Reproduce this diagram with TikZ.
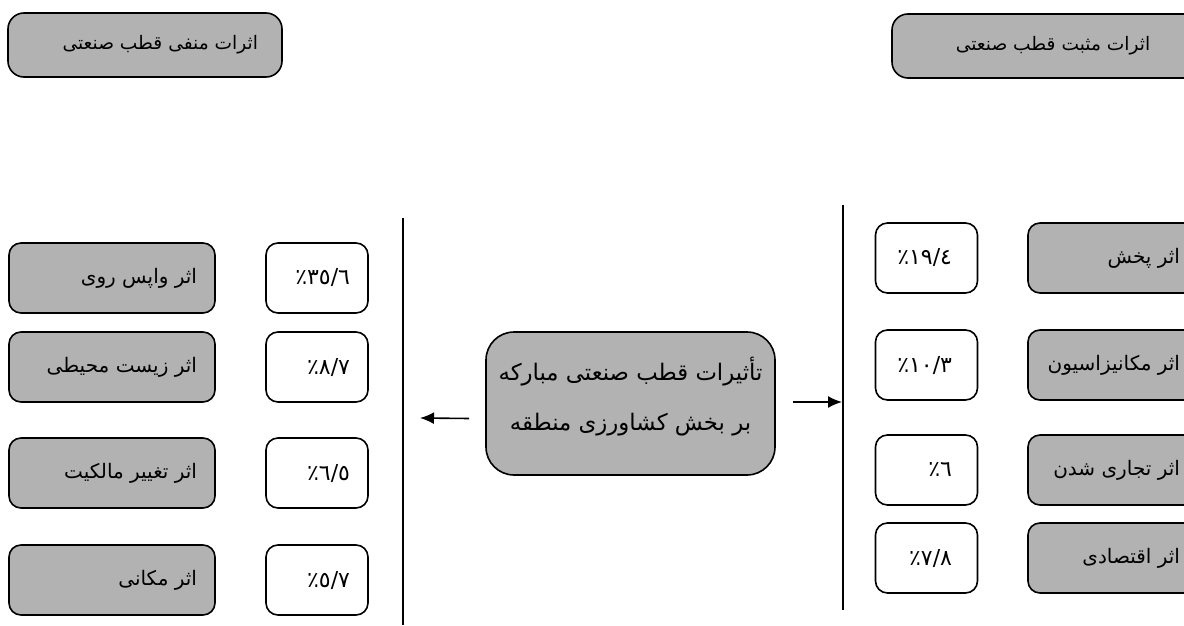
\documentclass[tikz,border=0pt]{standalone}
\usepackage{fontspec}
\usetikzlibrary{arrows.meta}
\newfontfamily\arabicfont[Script=Arabic]{DejaVu Sans}
\TeXXeTstate=1
\newcommand{\rtlbox}[2]{\makebox[#1][r]{#2}}

\begin{document}
\begin{tikzpicture}[x = 0.5pt, y = -0.5pt, line width = 0.8pt,
    greybox/.style = {draw, fill = black!30, rounded corners = 6pt, inner sep = 0pt,
                      minimum height = 35pt, font = \arabicfont\fontsize{10}{12}\selectfont},
    leftbox/.style = {greybox, minimum width = 103pt},
    rightbox/.style = {greybox, minimum width = 90pt},
    valuebox/.style = {draw, fill = white, rounded corners = 6pt, inner sep = 0pt,
                       minimum width = 51pt, minimum height = 35pt,
                       font = \arabicfont\fontsize{11}{13}\selectfont},
    headbox/.style = {greybox, rounded corners = 8pt, minimum height = 32pt,
                      font = \arabicfont\fontsize{9.3}{11}\selectfont},
    mainbox/.style = {greybox, rounded corners = 14pt, minimum width = 144.5pt,
                      minimum height = 71.5pt, align = center,
                      font = \arabicfont\fontsize{11.4}{25}\selectfont}]
  \clip (0, 0) rectangle (1184, 626);
  \useasboundingbox (0, 0) rectangle (1184, 626);
  % headings
  \node [headbox, minimum width = 137pt] (neg) at (145, 45){\rtlbox{113pt}{\beginR اثرات منفی قطب صنعتی\endR}};
  \node [headbox, minimum width = 161pt] (pos) at (1053, 46){\beginR اثرات مثبت قطب صنعتی\endR};
  % centre
  \node [mainbox] (mid) at (630.5, 403.5){\beginR تأثیرات قطب صنعتی مبارکه\endR\\\beginR بر بخش کشاورزی منطقه\endR\rule[-10pt]{0pt}{10pt}};
  % negative side
  \node [leftbox] (l1) at (112, 278){\rtlbox{85pt}{\beginR اثر واپس روی\endR}};
  \node [leftbox] (l2) at (112, 367){\rtlbox{85pt}{\beginR اثر زیست محیطی\endR}};
  \node [leftbox] (l3) at (112, 473){\rtlbox{85pt}{\beginR اثر تغییر مالکیت\endR}};
  \node [leftbox] (l4) at (112, 580){\rtlbox{85pt}{\beginR اثر مکانی\endR}};
  \node [valuebox] (lv1) at (317, 278){\rtlbox{33pt}{\beginR ٣٥/٦٪\endR}};
  \node [valuebox] (lv2) at (317, 367){\rtlbox{33pt}{\beginR ٨/٧٪\endR}};
  \node [valuebox] (lv3) at (317, 473){\rtlbox{33pt}{\beginR ٦/٥٪\endR}};
  \node [valuebox] (lv4) at (317, 580){\rtlbox{33pt}{\beginR ٥/٧٪\endR}};
  % positive side
  \node [valuebox] (rv1) at (926.5, 258){\rtlbox{25.5pt}{\beginR ١٩/٤٪\endR}};
  \node [valuebox] (rv2) at (926.5, 365){\rtlbox{25.5pt}{\beginR ١٠/٣٪\endR}};
  \node [valuebox] (rv3) at (926.5, 470){\rtlbox{25.5pt}{\beginR ٦٪\endR}};
  \node [valuebox] (rv4) at (926.5, 558){\rtlbox{25.5pt}{\beginR ٧/٨٪\endR}};
  \node [rightbox] (r1) at (1118, 258){\rtlbox{62pt}{\beginR اثر پخش\endR}};
  \node [rightbox] (r2) at (1118, 365){\rtlbox{62pt}{\beginR اثر مکانیزاسیون\endR}};
  \node [rightbox] (r3) at (1118, 470){\rtlbox{62pt}{\beginR اثر تجاری شدن\endR}};
  \node [rightbox] (r4) at (1118, 558){\rtlbox{62pt}{\beginR اثر اقتصادی\endR}};
  % dividers and arrows
  \coordinate (lt) at (403, 218);
  \coordinate (lb) at (403, 625);
  \coordinate (rt) at (843, 205);
  \coordinate (rb) at (843, 610);
  \coordinate (la) at (420, 418);
  \coordinate (ra) at (842, 402);
  \draw (lt) -- (lb);
  \draw (rt) -- (rb);
  \draw [-{Latex[length = 7pt, width = 6pt]}] ([xshift = -8pt, yshift = -7.5pt]mid.west) -- (la);
  \draw [-{Latex[length = 7pt, width = 6pt]}] ([xshift = 8.5pt, yshift = 0.75pt]mid.east) -- (ra);
\end{tikzpicture}
\end{document}
